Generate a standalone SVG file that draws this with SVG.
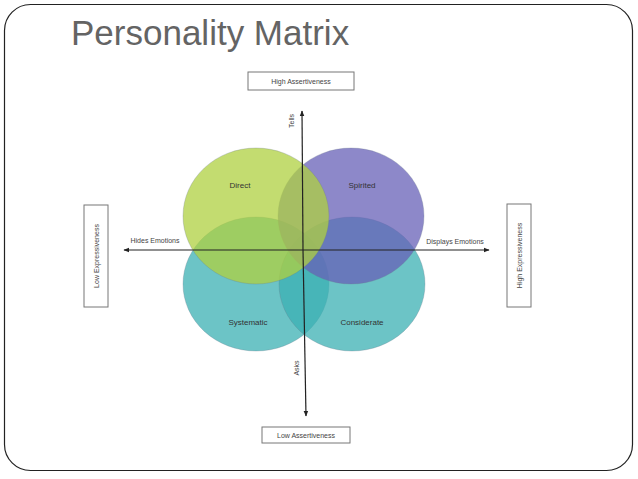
<svg xmlns="http://www.w3.org/2000/svg" width="638" height="479" viewBox="0 0 638 479">
<style>
.lbl{font-family:"Liberation Sans",Arial,sans-serif;font-size:7px;fill:#444;text-anchor:middle}
.nl{font-family:"Liberation Sans",Arial,sans-serif;font-size:8px;fill:#333;text-anchor:middle}
.box{fill:#fff;stroke:#777;stroke-width:1}
.ax{stroke:#222;stroke-width:1.2;fill:none}
.el{fill-opacity:0.75;stroke:#6a7a8a;stroke-opacity:0.35;stroke-width:0.8}
</style>
<defs>
<marker id="ah" viewBox="0 0 10 10" refX="9" refY="5" markerWidth="6" markerHeight="6" orient="auto" markerUnits="userSpaceOnUse">
<path d="M0,1 L10,5 L0,9 z" fill="#222"/>
</marker>
</defs>
<rect x="0" y="0" width="638" height="479" fill="#fff"/>
<rect x="4.5" y="4.5" width="628" height="466" rx="26" ry="26" fill="#fff" stroke="#222" stroke-width="1.2"/>
<text x="71" y="45" font-family="Liberation Sans,Arial,sans-serif" font-size="35" fill="#646464">Personality Matrix</text>

<g id="systematic">
<ellipse class="el" cx="256" cy="284" rx="73" ry="67" fill="#3bb0b3"/>
<text class="nl" x="248" y="325">Systematic</text>
</g>
<g id="considerate">
<ellipse class="el" cx="352" cy="284" rx="73" ry="67" fill="#3bb0b3"/>
<text class="nl" x="362" y="325">Considerate</text>
</g>
<g id="spirited">
<ellipse class="el" cx="351" cy="216" rx="73" ry="68" fill="#6760b7"/>
<text class="nl" x="362" y="188">Spirited</text>
</g>
<g id="direct">
<ellipse class="el" cx="256" cy="216" rx="73" ry="68" fill="#afd040"/>
<text class="nl" x="240" y="188">Direct</text>
</g>

<g id="connectors">
<line class="ax" x1="303" y1="250" x2="302" y2="111" marker-end="url(#ah)"/>
<line class="ax" x1="303" y1="250" x2="306" y2="416" marker-end="url(#ah)"/>
<line class="ax" x1="303" y1="250" x2="124" y2="250" marker-end="url(#ah)"/>
<line class="ax" x1="303" y1="250" x2="489" y2="250" marker-end="url(#ah)"/>
<text class="lbl" transform="translate(294,121) rotate(-90)">Tells</text>
<text class="lbl" transform="translate(299,368) rotate(-90)">Asks</text>
<text class="lbl" x="155" y="243">Hides Emotions</text>
<text class="lbl" x="455" y="244">Displays Emotions</text>
</g>

<g id="high-assertiveness">
<rect class="box" x="248" y="72" width="106" height="18"/>
<text class="lbl" x="301" y="83.5">High Assertiveness</text>
</g>
<g id="low-assertiveness">
<rect class="box" x="262" y="427" width="88" height="16"/>
<text class="lbl" x="306" y="437.5">Low Assertiveness</text>
</g>
<g id="low-expressiveness">
<rect class="box" x="84" y="205" width="24" height="102"/>
<text class="lbl" transform="translate(98.5,256) rotate(-90)">Low Expressiveness</text>
</g>
<g id="high-expressiveness">
<rect class="box" x="507" y="204" width="24" height="103"/>
<text class="lbl" transform="translate(521.5,255.5) rotate(-90)">High Expressiveness</text>
</g>
</svg>
